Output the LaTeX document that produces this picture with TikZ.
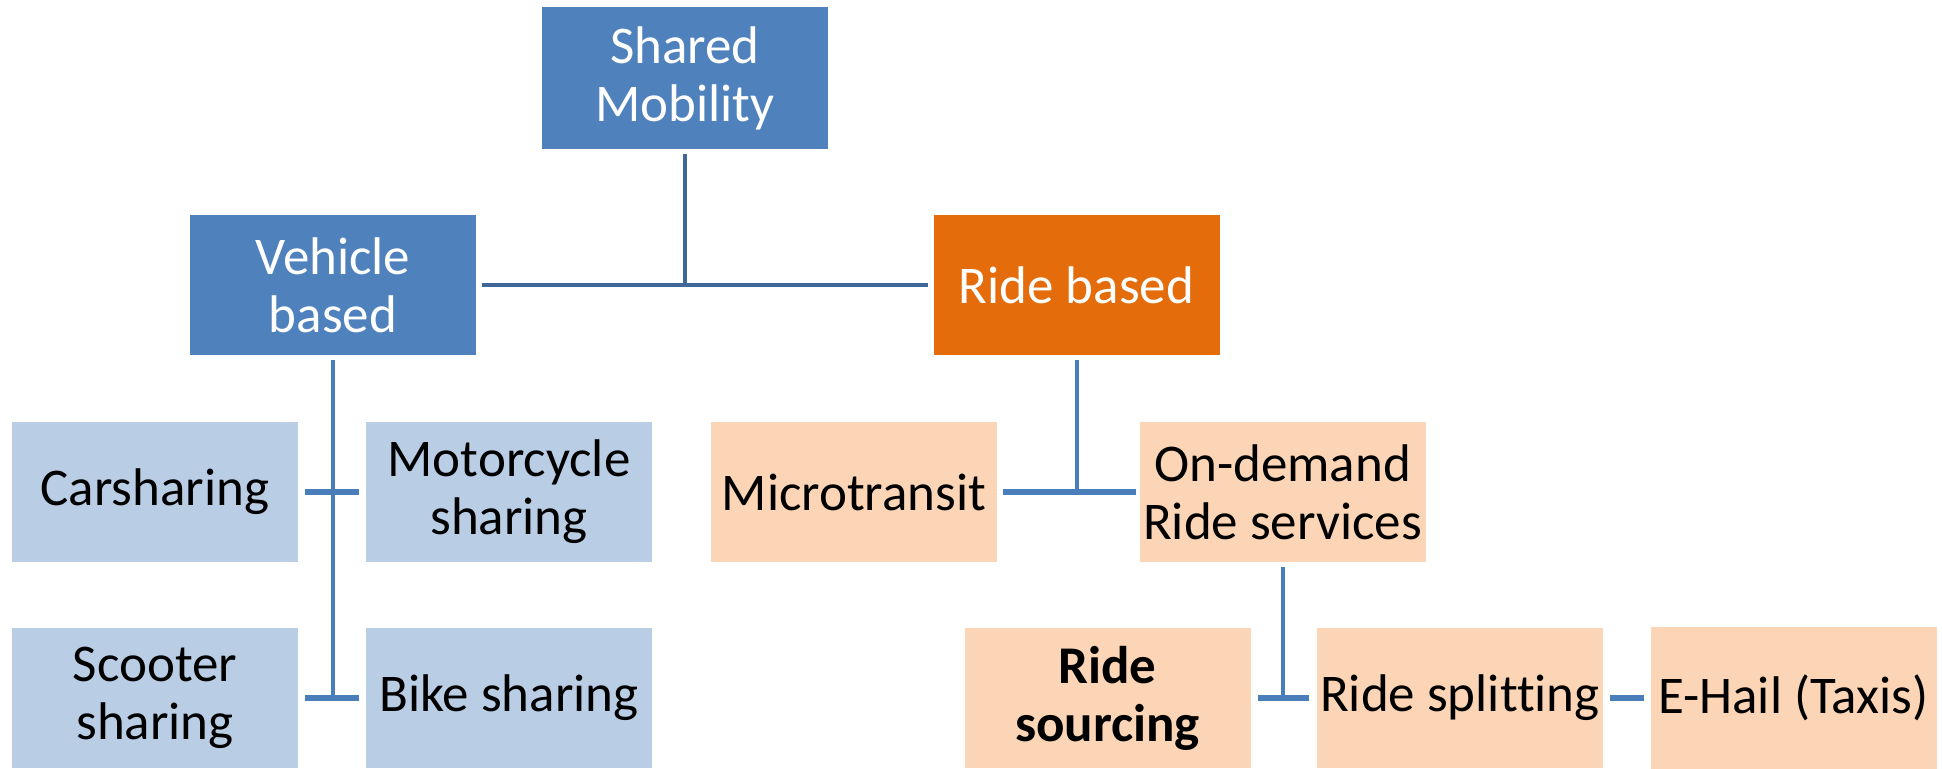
\documentclass[tikz,border=0pt]{standalone}
\usepackage{fontspec}
\setmainfont[Ligatures=NoCommon]{Carlito}
\definecolor{darkblue}{HTML}{4F81BD}
\definecolor{orng}{HTML}{E46C0A}
\definecolor{lightblue}{HTML}{B9CDE5}
\definecolor{peach}{HTML}{FBD5B5}
\definecolor{topline}{HTML}{3F6797}
\definecolor{subline}{HTML}{4A7EBB}

\begin{document}
\begin{tikzpicture}[x=0.5pt,y=-0.5pt,every text node part/.style={align=center},
  every node/.style={font=\fontsize{26.5}{29}\selectfont,inner sep=0pt,minimum width=143pt,minimum height=70pt},
  dark/.style={fill=darkblue,text=white},
  hot/.style={fill=orng,text=white},
  pale/.style={fill=lightblue},
  warm/.style={fill=peach},
  topln/.style={topline,line width=2pt},
  subln/.style={subline,line width=2pt},
  tick/.style={subline,line width=3pt}]

\useasboundingbox(0,0)rectangle(1942,768);

\node[dark,minimum height=71pt](sm)at(685,78){Shared\\Mobility};
\node[dark](veh)at(333,285){Vehicle\\based};
\node[hot](ride)at(1076.5,285){Ride based};

\node[pale](car)at(155,492){Carsharing};
\node[pale](moto)at(509,492){Motorcycle\\sharing};
\node[pale](scoot)at(155,698){Scooter\\sharing};
\node[pale](bike)at(509,698){Bike sharing};

\node[warm](micro)at(854,492){Microtransit};
\node[warm](ondem)at(1282.5,492){On-demand\\Ride services};
\node[warm](rsourc)at(1107.5,698){\textbf{Ride}\\\textbf{sourcing}};
\node[warm](rsplit)at(1460,698){Ride splitting};
\node[warm,minimum height=71pt](ehail)at(1793.5,697.5){E-Hail (Taxis)};

\draw[topln](sm.south)++(0,5)--(sm.south|-veh.east);
\draw[topln]([xshift=3pt]veh.east)--([xshift=-2.5pt]ride.west);

\draw[subln](veh.south)++(0,5)--(veh.south|-bike.west);
\draw[tick]([xshift=3.5pt]car.east)--([xshift=-3.5pt]moto.west);
\draw[tick]([xshift=3.5pt]scoot.east)--([xshift=-3.5pt]bike.west);

\draw[subln](ride.south)++(0,5)--(ride.south|-micro.east);
\draw[tick]([xshift=3pt]micro.east)--([xshift=-1.5pt]ondem.west);

\draw[subln](ondem.south)++(0,5)--(ondem.south|-rsplit.west);
\draw[tick]([xshift=3.5pt]rsourc.east)--([xshift=-4pt]rsplit.west);
\draw[tick]([xshift=3.5pt]rsplit.east)--([xshift=-3pt]ehail.west|-rsplit.east);

\end{tikzpicture}
\end{document}
